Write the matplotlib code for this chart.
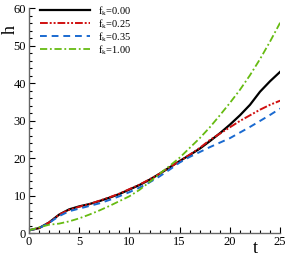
import matplotlib
matplotlib.use('Agg')
import matplotlib.pyplot as plt
from matplotlib.ticker import MultipleLocator

plt.rcParams['font.family'] = ['Liberation Serif', 'DejaVu Serif']
plt.rcParams['mathtext.fontset'] = 'custom'
plt.rcParams['mathtext.rm'] = 'Liberation Serif'

t = list(range(26))
h_000 = [0.8, 1.4, 2.9, 5.0, 6.4, 7.2, 7.8, 8.6, 9.5, 10.5, 11.7, 12.9, 14.3, 15.9, 17.6,
         19.3, 20.9, 22.6, 24.6, 26.7, 29.0, 31.5, 34.3, 37.8, 40.6, 43.1]
h_025 = [0.8, 1.4, 2.9, 5.0, 6.3, 7.1, 7.8, 8.7, 9.6, 10.6, 11.8, 13.0, 14.4, 15.9, 17.6,
         19.3, 21.0, 22.8, 24.9, 26.6, 28.3, 30.0, 31.5, 33.0, 34.3, 35.4]
h_035 = [0.8, 1.4, 2.8, 4.6, 5.9, 6.6, 7.3, 8.0, 8.9, 9.9, 11.0, 12.2, 13.6, 15.2, 17.0,
         18.9, 20.4, 21.7, 23.0, 24.2, 25.4, 26.9, 28.4, 30.0, 31.6, 33.3]
h_100 = [0.8, 1.6, 2.3, 2.6, 3.2, 4.0, 5.0, 6.1, 7.3, 8.6, 9.9, 11.6, 13.7, 15.9, 18.0,
         20.2, 22.8, 25.4, 28.3, 31.5, 34.8, 38.3, 42.2, 46.5, 51.2, 56.2]
labels = ['0.00', '0.25', '0.35', '1.00']

fig = plt.figure(figsize=(2.89, 2.57), dpi=100)
ax = fig.add_axes([0.1003, 0.092, 0.869, 0.875])

ax.plot(t, h_000, color='black', lw=1.6, label=r'f$_\mathregular{k}$=' + labels[0])
ax.plot(t, h_025, color='#d01010', lw=1.4, dashes=[4, 1, 1, 1, 1, 1],
        label=r'f$_\mathregular{k}$=' + labels[1])
ax.plot(t, h_035, color='#1a6ad0', lw=1.4, dashes=[3.5, 2.5],
        label=r'f$_\mathregular{k}$=' + labels[2])
ax.plot(t, h_100, color='#66bb11', lw=1.3, dashes=[4, 1.5, 1, 1.5],
        label=r'f$_\mathregular{k}$=' + labels[3])

ax.set_xlim(0, 25)
ax.set_ylim(0, 60)
ax.xaxis.set_major_locator(MultipleLocator(5))
ax.xaxis.set_minor_locator(MultipleLocator(1))
ax.yaxis.set_major_locator(MultipleLocator(10))
ax.yaxis.set_minor_locator(MultipleLocator(2))
ax.tick_params(which='both', direction='in', labelsize=9, pad=2, width=0.8)
ax.tick_params(which='major', length=4)
ax.tick_params(which='minor', length=2)
for s in ['top', 'right']:
    ax.spines[s].set_visible(False)
for s in ['left', 'bottom']:
    ax.spines[s].set_color('#666666')
    ax.spines[s].set_linewidth(1.0)

ax.legend(loc='upper left', bbox_to_anchor=(0.016, 1.052), frameon=False, fontsize=7.5,
          handlelength=4.8, handletextpad=0.75, labelspacing=-0.08, borderaxespad=0.3)

fig.text(0.035, 0.885, 'h', fontsize=13, rotation=90, ha='center', va='center')
fig.text(0.882, 0.035, 't', fontsize=13, ha='center', va='center')

fig.savefig('out.png', dpi=100)
